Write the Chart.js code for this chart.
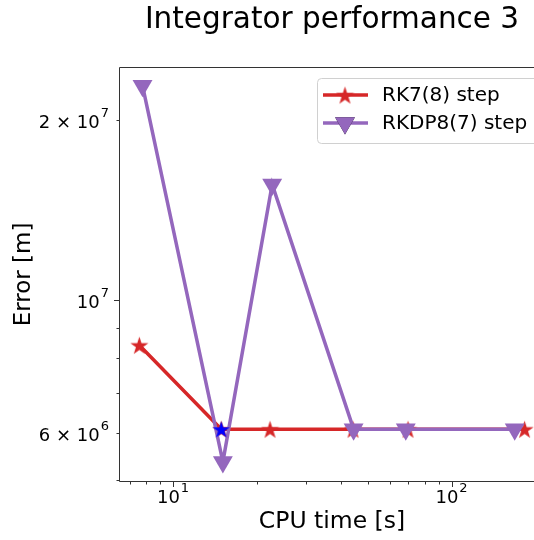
<!DOCTYPE html>
<html>
<head>
<meta charset="utf-8">
<script src="https://cdn.jsdelivr.net/npm/chart.js@4"></script>
<style>
  html, body { margin: 0; padding: 0; overflow: hidden; background: #fff; }
  canvas { display: block; }
</style>
</head>
<body>
<canvas id="chart" width="560" height="540"></canvas>
<script>
// values
const rkTime = [7.57, 14.9, 22.3, 44.3, 69.8, 183];
const rkError = [8.41e6, 6.09e6, 6.09e6, 6.09e6, 6.09e6, 6.09e6];
const dpTime = [7.77, 15.1, 22.7, 44.5, 68.5, 168.6];
const dpError = [2.28e7, 5.37e6, 1.56e7, 6.09e6, 6.09e6, 6.09e6];
const bestTime = [14.9];
const bestError = [6.09e6];

const xTicks = [7, 8, 9, 10, 20, 30, 40, 50, 60, 70, 80, 90, 100, 200];
const xLabels = { 10: ['10', '1'], 100: ['10', '2'] };
const yTicks = [5e6, 6e6, 7e6, 8e6, 9e6, 1e7, 2e7];
const yLabels = { 6e6: ['6 \u00d7 10', '6'], 1e7: ['10', '7'], 2e7: ['2 \u00d7 10', '7'] };

const FONT = 'DejaVu Sans';
const RED = '#d62728', PURPLE = '#9467bd';

function starImage(size, color) {
    const c = document.createElement('canvas');
    c.width = size; c.height = size;
    const g = c.getContext('2d');
    const R = size / 2, r = R * 0.382;
    g.beginPath();
    for (let i = 0; i < 10; i++) {
        const rad = i % 2 ? r : R;
        const a = -Math.PI / 2 + i * Math.PI / 5;
        const px = R + rad * Math.cos(a), py = R + 1 + rad * Math.sin(a);
        i ? g.lineTo(px, py) : g.moveTo(px, py);
    }
    g.closePath();
    g.fillStyle = color;
    g.fill();
    return c;
}
const redStar = starImage(19, RED);
const blueStar = starImage(18, 'blue');

function pts(xs, ys) { return xs.map((x, i) => ({ x: x, y: ys[i] })); }

// base text plus superscript, like matplotlib mathtext; returns width
function powLabel(c, parts, x, y, align) {
    c.font = '18px ' + FONT;
    const w1 = c.measureText(parts[0]).width;
    c.font = '13px ' + FONT;
    const w2 = c.measureText(parts[1]).width;
    const w = w1 + w2 + 1;
    let left = align === 'right' ? x - w : x - w / 2;
    c.textAlign = 'left';
    c.textBaseline = 'alphabetic';
    c.font = '18px ' + FONT;
    c.fillText(parts[0], left, y);
    c.font = '13px ' + FONT;
    c.fillText(parts[1], left + w1 + 1, y - 11);
}

// title, spines, ticks and legend drawn like matplotlib
const mplPlugin = {
    id: 'mpl',
    afterDraw(chart) {
        const c = chart.ctx, a = chart.chartArea;
        const xs = chart.scales.x, ys = chart.scales.y;
        c.save();
        c.fillStyle = '#000';
        c.font = '29.5px ' + FONT;
        c.textAlign = 'center';
        c.textBaseline = 'alphabetic';
        c.fillText('Integrator performance 3', (a.left + a.right) / 2, 28);

        c.strokeStyle = '#333';
        c.lineWidth = 1;
        c.beginPath();
        c.rect(a.left - 0.5, a.top - 0.5, a.right - a.left, a.bottom - a.top + 1);
        c.stroke();
        c.beginPath();
        xTicks.forEach(v => {
            const px = Math.round(xs.getPixelForValue(v)) + 0.5;
            const len = xLabels[v] ? 6 : 3.5;
            c.moveTo(px, a.bottom); c.lineTo(px, a.bottom + len);
        });
        yTicks.forEach(v => {
            const py = Math.round(ys.getPixelForValue(v)) + 0.5;
            const len = v === 1e7 ? 6 : 3.5;
            c.moveTo(a.left, py); c.lineTo(a.left - len, py);
        });
        c.stroke();

        c.fillStyle = '#000';
        xTicks.forEach(v => {
            if (xLabels[v]) powLabel(c, xLabels[v], xs.getPixelForValue(v), a.bottom + 22, 'center');
        });
        yTicks.forEach(v => {
            if (yLabels[v]) powLabel(c, yLabels[v], a.left - 11, ys.getPixelForValue(v) + 8, 'right');
        });

        // legend box
        const bx = 317, by = 78, bw = 240, bh = 65;
        c.fillStyle = 'rgba(255,255,255,0.8)';
        c.strokeStyle = '#d0d0d0';
        c.lineWidth = 1;
        c.beginPath();
        c.roundRect(bx + 0.5, by + 0.5, bw, bh, 4);
        c.fill(); c.stroke();
        const items = [chart.data.datasets[0], chart.data.datasets[1]];
        items.forEach((ds, i) => {
            const ly = 95 + i * 28;
            c.strokeStyle = ds.borderColor;
            c.lineWidth = ds.borderWidth;
            c.beginPath(); c.moveTo(323, ly); c.lineTo(368, ly); c.stroke();
            Chart.helpers.drawPoint(c, {
                pointStyle: ds.pointStyle, radius: ds.pointRadius,
                rotation: ds.pointRotation || 0, borderWidth: 0
            }, 345, ly);
            if (ds.pointStyle === 'triangle') {
                c.fillStyle = ds.pointBackgroundColor;
                c.fill();
            }
            c.fillStyle = '#000';
            c.font = '20px ' + FONT;
            c.textAlign = 'left';
            c.textBaseline = 'middle';
            c.fillText(ds.label, 382, ly + 1);
        });
        c.restore();
    }
};

new Chart(document.getElementById('chart'), {
    type: 'line',
    data: {
        datasets: [
            {
                label: 'RK7(8) step',
                data: pts(rkTime, rkError),
                borderColor: RED,
                backgroundColor: RED,
                borderWidth: 3.5,
                pointStyle: redStar,
                pointRadius: 9,
                order: 2
            },
            {
                label: 'RKDP8(7) step',
                data: pts(dpTime, dpError),
                borderColor: PURPLE,
                backgroundColor: PURPLE,
                pointBackgroundColor: PURPLE,
                pointBorderColor: PURPLE,
                borderWidth: 3.5,
                pointStyle: 'triangle',
                pointRotation: 180,
                pointRadius: 11.5,
                pointBorderWidth: 0,
                order: 1
            },
            {
                label: 'best',
                data: pts(bestTime, bestError),
                showLine: false,
                pointStyle: blueStar,
                pointRadius: 9,
                order: 0
            }
        ]
    },
    options: {
        responsive: false,
        animation: false,
        layout: { padding: { top: 68, right: 16, left: 0, bottom: 0 } },
        plugins: { legend: { display: false }, tooltip: { enabled: false }, title: { display: false } },
        scales: {
            x: {
                type: 'logarithmic',
                min: 6.45,
                max: 214.8,
                afterBuildTicks: s => { s.ticks = xTicks.map(v => ({ value: v })); },
                afterFit: s => { s.height = 59; },
                grid: { display: false },
                border: { display: false },
                ticks: { display: false },
                title: {
                    display: true,
                    text: 'CPU time [s]',
                    color: '#000',
                    font: { family: FONT, size: 23.5 },
                    padding: { top: 0, bottom: 4 }
                }
            },
            y: {
                type: 'logarithmic',
                min: 4.99e6,
                max: 2.44e7,
                afterBuildTicks: s => { s.ticks = yTicks.map(v => ({ value: v })); },
                afterFit: s => { s.width = 120; },
                grid: { display: false },
                border: { display: false },
                ticks: { display: false },
                title: {
                    display: true,
                    text: 'Error [m]',
                    color: '#000',
                    font: { family: FONT, size: 23 },
                    padding: { top: 10, bottom: 0 }
                }
            }
        }
    },
    plugins: [mplPlugin]
});
</script>
</body>
</html>
